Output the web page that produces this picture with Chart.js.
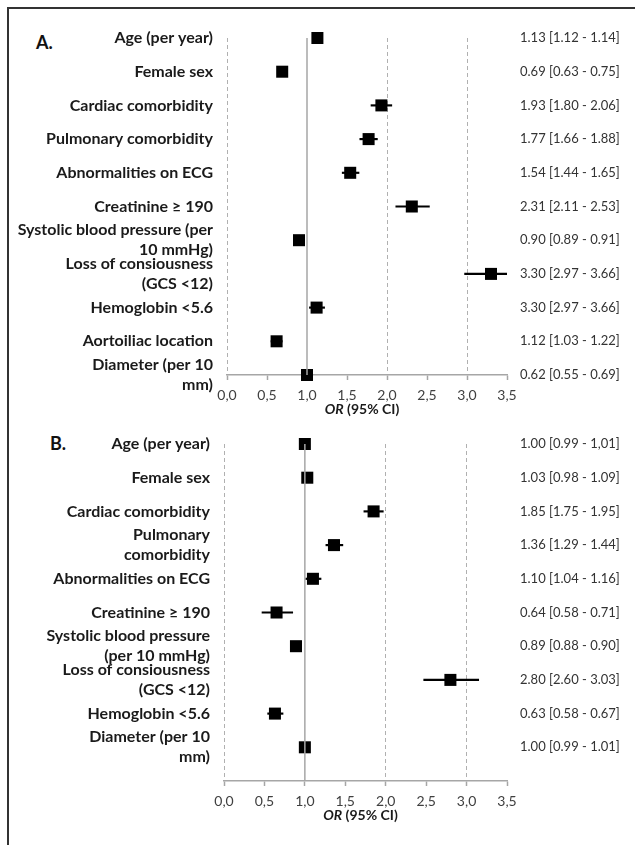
<!DOCTYPE html>
<html>
<head>
<meta charset="utf-8">
<script src="https://cdn.jsdelivr.net/npm/chart.js@4"></script>
<style>
  body { margin: 0; background: #fff; }
  #frame { position: absolute; left: 7px; top: 7px; width: 640px; height: 850px;
           border-top: 2px solid #333; border-left: 2px solid #333; }
  canvas { position: absolute; left: 0; }
  .tag { position: absolute; font: bold 18px Lato; color: #111; }
</style>
</head>
<body>
<div id="frame"></div>
<div class="tag" style="left:36px;top:31px">A.</div>
<div class="tag" style="left:50px;top:432px">B.</div>
<canvas id="chart_a" width="635" height="420" style="top:0"></canvas>
<canvas id="chart_b" width="635" height="425" style="top:420px"></canvas>
<script>
// panel A
var rowsA = ['Age (per year)', 'Female sex', 'Cardiac comorbidity', 'Pulmonary comorbidity',
	'Abnormalities on ECG', 'Creatinine \u2265 190', ['Systolic blood pressure (per', '10 mmHg)'],
	['Loss of consiousness', '(GCS <12)'], 'Hemoglobin <5.6', 'Aortoiliac location', ['Diameter (per 10', 'mm)']];
var orA = [1.13, 0.69, 1.93, 1.77, 1.54, 2.31, 0.90, 3.30, 1.12, 0.62, 1.00];
var loA = [1.12, 0.63, 1.80, 1.66, 1.44, 2.11, 0.89, 2.97, 1.03, 0.55, 0.99];
var hiA = [1.14, 0.75, 2.06, 1.88, 1.65, 2.53, 0.91, 3.66, 1.22, 0.69, 1.01];
var ciA = ['1.13 [1.12 - 1.14]', '0.69 [0.63 - 0.75]', '1.93 [1.80 - 2.06]', '1.77 [1.66 - 1.88]',
	'1.54 [1.44 - 1.65]', '2.31 [2.11 - 2.53]', '0.90 [0.89 - 0.91]', '3.30 [2.97 - 3.66]',
	'3.30 [2.97 - 3.66]', '1.12 [1.03 - 1.22]', '0.62 [0.55 - 0.69]'];

// panel B (last row left empty)
var rowsB = ['Age (per year)', 'Female sex', 'Cardiac comorbidity', ['Pulmonary', 'comorbidity'],
	'Abnormalities on ECG', 'Creatinine \u2265 190', ['Systolic blood pressure', '(per 10 mmHg)'],
	['Loss of consiousness', '(GCS <12)'], 'Hemoglobin <5.6', ['Diameter (per 10', 'mm)'], ''];
var orB = [1.00, 1.03, 1.85, 1.36, 1.10, 0.65, 0.89, 2.80, 0.63, 1.00];
var loB = [0.99, 0.98, 1.73, 1.26, 1.01, 0.47, 0.88, 2.47, 0.54, 0.99];
var hiB = [1.01, 1.09, 1.97, 1.47, 1.20, 0.85, 0.90, 3.15, 0.73, 1.01];
var ciB = ['1.00 [0.99 - 1,01]', '1.03 [0.98 - 1.09]', '1.85 [1.75 - 1.95]', '1.36 [1.29 - 1.44]',
	'1.10 [1.04 - 1.16]', '0.64 [0.58 - 0.71]', '0.89 [0.88 - 0.90]', '2.80 [2.60 - 3.03]',
	'0.63 [0.58 - 0.67]', '1.00 [0.99 - 1.01]', ''];

var refOR = 1;
var dashedAt = [0, 2, 3];

Chart.defaults.font.family = 'Lato';

// "OR (95% CI)" with italic OR
var axisTitle = {
	id: 'axisTitle',
	afterDraw: function(chart) {
		var s = chart.scales.x, a = chart.chartArea, ctx = chart.ctx;
		var y = s.top + 34;
		ctx.save();
		ctx.fillStyle = '#1a1a1a';
		ctx.textBaseline = 'middle';
		ctx.font = 'italic bold 14px Lato';
		var w1 = ctx.measureText('OR').width;
		ctx.font = 'bold 14px Lato';
		var w2 = ctx.measureText(' (95% CI)').width;
		var x0 = (a.left + a.right) / 2 - 5 - (w1 + w2) / 2;
		ctx.font = 'italic bold 14px Lato';
		ctx.fillText('OR', x0, y);
		ctx.font = 'bold 14px Lato';
		ctx.fillText(' (95% CI)', x0 + w1, y);
		ctx.restore();
	}
};

function forest(id, rows, or, lo, hi, ci, leftW, padTop, xH) {
	return new Chart(document.getElementById(id), {
		type: 'bar',
		data: {
			labels: rows,
			datasets: [
			{type: 'line', data: rows.map(function(r, i) { return {x: refOR, y: i}; }), borderColor: '#a6a6a6',
			borderWidth: 1.5, pointRadius: 0, order: 0, clip: false},
			{type: 'scatter', data: or.map(function(v, i) { return {x: v, y: i}; }),
			pointStyle: 'rect', pointRadius: 8.5, backgroundColor: '#000', borderWidth: 0, order: 1, clip: false},
			{indexAxis: 'y', data: lo.map(function(v, i) { return [v, hi[i]]; }),
			backgroundColor: '#000', barThickness: 1.5, order: 2, clip: {left: 0, top: 20, right: 0, bottom: 20}}]
		},
		options: {
			responsive: false,
			animation: false,
			events: [],
			layout: {padding: {top: padTop, left: 0, right: 0, bottom: 0}},
			plugins: {legend: {display: false}, tooltip: {enabled: false}},
			scales: {
				x: {
					type: 'linear', min: 0, max: 3.5, offset: false,
					afterFit: function(s) { s.height = xH; },
					ticks: {stepSize: 0.5, padding: 7, color: '#404040', font: {size: 14},
						callback: function(v) { return v.toFixed(1).replace('.', ','); }},
					grid: {
						offset: false,
						color: function(c) {
							return c.tick && dashedAt.indexOf(c.tick.value) >= 0 ? '#b0b0b0' : 'rgba(0,0,0,0)';
						},
						lineWidth: 1, tickColor: '#a6a6a6', tickLength: 5, tickWidth: 1.5
					},
					border: {color: '#a6a6a6', width: 1.5, dash: [4, 3]}
				},
				y: {
					type: 'category', offset: false, position: 'left',
					afterFit: function(s) { s.width = leftW; },
					grid: {display: false, drawTicks: false}, border: {display: false},
					ticks: {autoSkip: false, padding: 14, color: '#1a1a1a',
						font: {size: 16, weight: 'bold', lineHeight: 1.25}}
				},
				y2: {
					type: 'category', labels: ci, offset: false, position: 'right',
					afterFit: function(s) { s.width = 128; },
					grid: {display: false, drawTicks: false}, border: {display: false},
					ticks: {autoSkip: false, padding: 13, color: '#333', font: {size: 13}}
				}
			}
		},
		plugins: [axisTitle]
	});
}

var chart_a = forest('chart_a', rowsA, orA, loA, hiA, ciA, 227, 38, 45);
var chart_b = forest('chart_b', rowsB, orB, loB, hiB, ciB, 224, 22, 64);
</script>
</body>
</html>
